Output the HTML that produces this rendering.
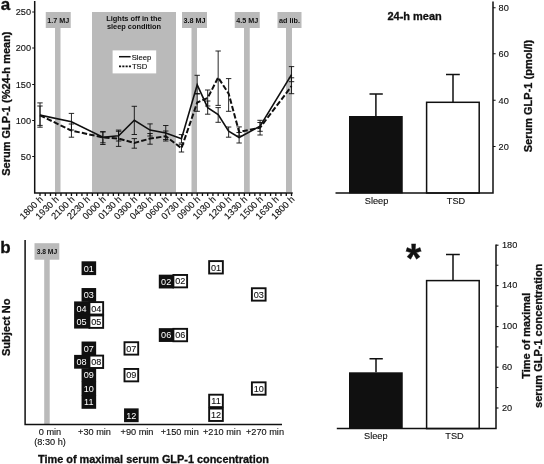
<!DOCTYPE html>
<html lang="en"><head><meta charset="utf-8"><title>Serum GLP-1</title>
<style>
html,body{margin:0;padding:0;background:#fff;}
body{width:544px;height:464px;overflow:hidden;}
svg{display:block;font-family:"Liberation Sans", Arial, Helvetica, sans-serif;}
text{fill:#101010;stroke:#101010;stroke-width:.12px;}
.b{font-weight:bold;stroke-width:.3px;}
.bs{font-weight:bold;stroke:none;}
.t9{font-size:9.2px;}
.ln{stroke:#101010;fill:none;}
</style></head><body>
<svg width="544" height="464" viewBox="0 0 544 464">
<rect width="544" height="464" fill="#fff"/>

<g fill="#bababa">
<rect x="92" y="12" width="84" height="180"/>
<rect x="45.75" y="12" width="25.0" height="16"/>
<rect x="55" y="27" width="5.5" height="165"/>
<rect x="182" y="12" width="25" height="16"/>
<rect x="191.5" y="27" width="5.5" height="165"/>
<rect x="234.75" y="12" width="25.0" height="16"/>
<rect x="244" y="27" width="5.75" height="165"/>
<rect x="277.5" y="12" width="24.0" height="16"/>
<rect x="286" y="27" width="6" height="165"/>
</g>
<text x="58.25" y="22.6" text-anchor="middle" class="bs" font-size="7.2">1.7 MJ</text>
<text x="194.5" y="22.6" text-anchor="middle" class="bs" font-size="7.2">3.8 MJ</text>
<text x="247.25" y="22.6" text-anchor="middle" class="bs" font-size="7.2">4.5 MJ</text>
<text x="289.5" y="22.6" text-anchor="middle" class="bs" font-size="7.2">ad lib.</text>
<text x="134" y="21" text-anchor="middle" class="bs" font-size="7.4">Lights off in the</text>
<text x="134" y="29.3" text-anchor="middle" class="bs" font-size="7.4">sleep condition</text>
<rect x="112.6" y="50.4" width="43.6" height="23" fill="#fff"/>
<line x1="119" y1="56.7" x2="130.6" y2="56.7" class="ln" stroke-width="1.5"/>
<line x1="119" y1="66.3" x2="131.5" y2="66.3" class="ln" stroke-width="1.7" stroke-dasharray="2.1 1.2"/>
<text x="131.7" y="59.5" font-size="7.7">Sleep</text>
<text x="131.9" y="69.4" font-size="7.7">TSD</text>
<path d="M34.7 1V192.9H292.7" class="ln" stroke-width="1.5"/>
<line x1="32.2" y1="12" x2="34.7" y2="12" class="ln" stroke-width="1"/>
<text x="31.1" y="15.3" text-anchor="end" class="t9">250</text>
<line x1="32.2" y1="48" x2="34.7" y2="48" class="ln" stroke-width="1"/>
<text x="31.1" y="51.3" text-anchor="end" class="t9">200</text>
<line x1="32.2" y1="84.5" x2="34.7" y2="84.5" class="ln" stroke-width="1"/>
<text x="31.1" y="87.8" text-anchor="end" class="t9">150</text>
<line x1="32.2" y1="120.5" x2="34.7" y2="120.5" class="ln" stroke-width="1"/>
<text x="31.1" y="123.8" text-anchor="end" class="t9">100</text>
<line x1="32.2" y1="156.5" x2="34.7" y2="156.5" class="ln" stroke-width="1"/>
<text x="31.1" y="159.8" text-anchor="end" class="t9">50</text>
<path d="M40.00 192.9v3.1M45.24 192.9v3.1M50.48 192.9v3.1M55.72 192.9v3.1M60.96 192.9v3.1M66.20 192.9v3.1M71.44 192.9v3.1M76.68 192.9v3.1M81.92 192.9v3.1M87.16 192.9v3.1M92.40 192.9v3.1M97.64 192.9v3.1M102.88 192.9v3.1M108.12 192.9v3.1M113.36 192.9v3.1M118.60 192.9v3.1M123.84 192.9v3.1M129.08 192.9v3.1M134.32 192.9v3.1M139.56 192.9v3.1M144.80 192.9v3.1M150.04 192.9v3.1M155.28 192.9v3.1M160.52 192.9v3.1M165.76 192.9v3.1M171.00 192.9v3.1M176.24 192.9v3.1M181.48 192.9v3.1M186.72 192.9v3.1M191.96 192.9v3.1M197.20 192.9v3.1M202.44 192.9v3.1M207.68 192.9v3.1M212.92 192.9v3.1M218.16 192.9v3.1M223.40 192.9v3.1M228.64 192.9v3.1M233.88 192.9v3.1M239.12 192.9v3.1M244.36 192.9v3.1M249.60 192.9v3.1M254.84 192.9v3.1M260.08 192.9v3.1M265.32 192.9v3.1M270.56 192.9v3.1M275.80 192.9v3.1M281.04 192.9v3.1M286.28 192.9v3.1M291.52 192.9v3.1" class="ln" stroke-width="1.3"/>
<text transform="translate(43.60 199.8) rotate(-45)" text-anchor="end" font-size="9.3">1800 h</text>
<text transform="translate(59.32 199.8) rotate(-45)" text-anchor="end" font-size="9.3">1930 h</text>
<text transform="translate(75.04 199.8) rotate(-45)" text-anchor="end" font-size="9.3">2100 h</text>
<text transform="translate(90.76 199.8) rotate(-45)" text-anchor="end" font-size="9.3">2230 h</text>
<text transform="translate(106.48 199.8) rotate(-45)" text-anchor="end" font-size="9.3">0000 h</text>
<text transform="translate(122.20 199.8) rotate(-45)" text-anchor="end" font-size="9.3">0130 h</text>
<text transform="translate(137.92 199.8) rotate(-45)" text-anchor="end" font-size="9.3">0300 h</text>
<text transform="translate(153.64 199.8) rotate(-45)" text-anchor="end" font-size="9.3">0430 h</text>
<text transform="translate(169.36 199.8) rotate(-45)" text-anchor="end" font-size="9.3">0600 h</text>
<text transform="translate(185.08 199.8) rotate(-45)" text-anchor="end" font-size="9.3">0730 h</text>
<text transform="translate(200.80 199.8) rotate(-45)" text-anchor="end" font-size="9.3">0900 h</text>
<text transform="translate(216.52 199.8) rotate(-45)" text-anchor="end" font-size="9.3">1030 h</text>
<text transform="translate(232.24 199.8) rotate(-45)" text-anchor="end" font-size="9.3">1200 h</text>
<text transform="translate(247.96 199.8) rotate(-45)" text-anchor="end" font-size="9.3">1330 h</text>
<text transform="translate(263.68 199.8) rotate(-45)" text-anchor="end" font-size="9.3">1500 h</text>
<text transform="translate(279.40 199.8) rotate(-45)" text-anchor="end" font-size="9.3">1630 h</text>
<text transform="translate(295.12 199.8) rotate(-45)" text-anchor="end" font-size="9.3">1800 h</text>
<text transform="translate(9.5 103.6) rotate(-90)" text-anchor="middle" class="b" font-size="11">Serum GLP-1 (%24-h mean)</text>
<text x="0.7" y="10.1" class="b" font-size="17">a</text>
<path d="M40.00 106.00V125.40M37.30 106.00h5.4M37.30 125.40h5.4M71.44 113.40V130.00M68.74 113.40h5.4M68.74 130.00h5.4M102.88 131.60V142.80M100.18 131.60h5.4M100.18 142.80h5.4M118.60 130.10V141.00M115.90 130.10h5.4M115.90 141.00h5.4M134.32 106.30V134.50M131.62 106.30h5.4M131.62 134.50h5.4M150.04 123.90V136.00M147.34 123.90h5.4M147.34 136.00h5.4M165.76 125.50V139.50M163.06 125.50h5.4M163.06 139.50h5.4M181.48 134.60V143.00M178.78 134.60h5.4M178.78 143.00h5.4M197.20 75.30V94.00M194.50 75.30h5.4M194.50 94.00h5.4M207.68 101.00V114.20M204.98 101.00h5.4M204.98 114.20h5.4M218.16 107.60V122.30M215.46 107.60h5.4M215.46 122.30h5.4M228.64 127.00V137.20M225.94 127.00h5.4M225.94 137.20h5.4M239.12 132.50V143.00M236.42 132.50h5.4M236.42 143.00h5.4M260.08 122.50V131.30M257.38 122.50h5.4M257.38 131.30h5.4M291.52 66.60V81.70M288.82 66.60h5.4M288.82 81.70h5.4M40.00 102.90V127.20M37.30 102.90h5.4M37.30 127.20h5.4M71.44 124.00V137.20M68.74 124.00h5.4M68.74 137.20h5.4M102.88 132.00V144.50M100.18 132.00h5.4M100.18 144.50h5.4M118.60 131.30V146.40M115.90 131.30h5.4M115.90 146.40h5.4M134.32 138.60V148.20M131.62 138.60h5.4M131.62 148.20h5.4M150.04 133.50V144.20M147.34 133.50h5.4M147.34 144.20h5.4M165.76 131.00V141.00M163.06 131.00h5.4M163.06 141.00h5.4M181.48 144.30V152.00M178.78 144.30h5.4M178.78 152.00h5.4M197.20 93.50V111.30M194.50 93.50h5.4M194.50 111.30h5.4M207.68 90.00V106.00M204.98 90.00h5.4M204.98 106.00h5.4M218.16 51.00V105.40M215.46 51.00h5.4M215.46 105.40h5.4M228.64 78.60V111.30M225.94 78.60h5.4M225.94 111.30h5.4M239.12 126.90V136.00M236.42 126.90h5.4M236.42 136.00h5.4M260.08 120.30V135.00M257.38 120.30h5.4M257.38 135.00h5.4M291.52 77.80V93.70M288.82 77.80h5.4M288.82 93.70h5.4" class="ln" stroke="#303030" stroke-width="0.9"/>
<polyline points="40.00,115.1 71.44,121.7 102.88,137.2 118.60,135.7 134.32,120.3 150.04,130.1 165.76,133 181.48,138.7 197.20,84.8 207.68,107.6 218.16,114.5 228.64,131.2 239.12,137.5 260.08,126.1 291.52,74.6" class="ln" stroke-width="1.6" stroke-linejoin="miter"/>
<polyline points="40.00,115.3 71.44,130.6 102.88,137.4 118.60,138.6 134.32,143 150.04,138.6 165.76,136.2 181.48,148.2 197.20,102.5 207.68,98 218.16,77.5 228.64,93.6 239.12,132 260.08,127.6 291.52,86.2" class="ln" stroke-width="2" stroke-dasharray="5.4 2.2" stroke-linejoin="miter"/>
<text x="387.4" y="19.9" class="b" font-size="11">24-h mean</text>
<rect x="349" y="116" width="53.75" height="77.4" fill="#101010"/>
<rect x="426.6" y="102.3" width="52.6" height="90.7" fill="#fff" stroke="#101010" stroke-width="1.5"/>
<path d="M375.9 116V94M369.5 94h13.3M453 102V74.5M446 74.5h13.8" class="ln" stroke-width="1.5"/>
<path d="M335.5 193H493V1.5" class="ln" stroke-width="1.5"/>
<line x1="493" y1="7.75" x2="495.6" y2="7.75" class="ln" stroke-width="1"/>
<text x="498.6" y="11.05" class="t9">80</text>
<line x1="493" y1="53.75" x2="495.6" y2="53.75" class="ln" stroke-width="1"/>
<text x="498.6" y="57.05" class="t9">60</text>
<line x1="493" y1="100.25" x2="495.6" y2="100.25" class="ln" stroke-width="1"/>
<text x="498.6" y="103.55" class="t9">40</text>
<line x1="493" y1="146.5" x2="495.6" y2="146.5" class="ln" stroke-width="1"/>
<text x="498.6" y="149.8" class="t9">20</text>
<text x="376.5" y="203.9" text-anchor="middle" class="t9">Sleep</text>
<text x="456" y="203.9" text-anchor="middle" class="t9">TSD</text>
<text transform="translate(531.8 96) rotate(-90)" text-anchor="middle" class="b" font-size="11">Serum GLP-1 (pmol/l)</text>
<text x="0.2" y="253.3" class="b" font-size="17">b</text>
<g fill="#bababa"><rect x="34.5" y="243.2" width="24.8" height="16.5"/><rect x="44.2" y="259" width="5.5" height="166"/></g>
<text x="46.9" y="253.9" text-anchor="middle" class="bs" font-size="6.7">3.8 MJ</text>
<path d="M25.1 240V424.6H282" class="ln" stroke-width="1.5"/>
<text transform="translate(9.6 327.3) rotate(-90)" text-anchor="middle" class="b" font-size="11">Subject No</text>
<rect x="81.55" y="261.30" width="14.60" height="13.8" fill="#101010"/>
<text x="88.85" y="271.50" text-anchor="middle" font-size="9.1" style="fill:#fff;stroke:none">01</text>
<rect x="158.80" y="274.67" width="15.20" height="13.8" fill="#101010"/>
<text x="166.15" y="284.87" text-anchor="middle" font-size="9.1" style="fill:#fff;stroke:none">02</text>
<rect x="81.55" y="288.04" width="14.60" height="13.8" fill="#101010"/>
<text x="88.85" y="298.24" text-anchor="middle" font-size="9.1" style="fill:#fff;stroke:none">03</text>
<rect x="74.10" y="301.41" width="15.90" height="13.8" fill="#101010"/>
<text x="81.50" y="311.61" text-anchor="middle" font-size="9.1" style="fill:#fff;stroke:none">04</text>
<rect x="74.10" y="314.78" width="15.90" height="13.8" fill="#101010"/>
<text x="81.50" y="324.98" text-anchor="middle" font-size="9.1" style="fill:#fff;stroke:none">05</text>
<rect x="158.80" y="328.15" width="15.20" height="13.8" fill="#101010"/>
<text x="166.15" y="338.35" text-anchor="middle" font-size="9.1" style="fill:#fff;stroke:none">06</text>
<rect x="81.55" y="341.52" width="14.60" height="13.8" fill="#101010"/>
<text x="88.85" y="351.72" text-anchor="middle" font-size="9.1" style="fill:#fff;stroke:none">07</text>
<rect x="74.10" y="354.89" width="15.90" height="13.8" fill="#101010"/>
<text x="81.50" y="365.09" text-anchor="middle" font-size="9.1" style="fill:#fff;stroke:none">08</text>
<rect x="81.55" y="368.26" width="14.60" height="13.8" fill="#101010"/>
<text x="88.85" y="378.46" text-anchor="middle" font-size="9.1" style="fill:#fff;stroke:none">09</text>
<rect x="81.55" y="381.63" width="14.60" height="13.8" fill="#101010"/>
<text x="88.85" y="391.83" text-anchor="middle" font-size="9.1" style="fill:#fff;stroke:none">10</text>
<rect x="81.55" y="395.00" width="14.60" height="13.8" fill="#101010"/>
<text x="88.85" y="405.20" text-anchor="middle" font-size="9.1" style="fill:#fff;stroke:none">11</text>
<rect x="124.05" y="408.37" width="14.60" height="13.8" fill="#101010"/>
<text x="131.35" y="418.57" text-anchor="middle" font-size="9.1" style="fill:#fff;stroke:none">12</text>
<rect x="209.15" y="261.10" width="13.7" height="12.4" fill="#fff" stroke="#101010" stroke-width="1.9"/>
<text x="216.00" y="270.60" text-anchor="middle" font-size="9.1" style="stroke-width:.1px">01</text>
<rect x="173.40" y="274.97" width="13.7" height="12.4" fill="#fff" stroke="#101010" stroke-width="1.9"/>
<text x="180.25" y="284.47" text-anchor="middle" font-size="9.1" style="stroke-width:.1px">02</text>
<rect x="251.90" y="288.24" width="13.7" height="12.4" fill="#fff" stroke="#101010" stroke-width="1.9"/>
<text x="258.75" y="297.74" text-anchor="middle" font-size="9.1" style="stroke-width:.1px">03</text>
<rect x="89.45" y="302.11" width="13.7" height="12.4" fill="#fff" stroke="#101010" stroke-width="1.9"/>
<text x="96.30" y="311.61" text-anchor="middle" font-size="9.1" style="stroke-width:.1px">04</text>
<rect x="89.45" y="315.48" width="13.7" height="12.4" fill="#fff" stroke="#101010" stroke-width="1.9"/>
<text x="96.30" y="324.98" text-anchor="middle" font-size="9.1" style="stroke-width:.1px">05</text>
<rect x="173.40" y="328.85" width="13.7" height="12.4" fill="#fff" stroke="#101010" stroke-width="1.9"/>
<text x="180.25" y="338.35" text-anchor="middle" font-size="9.1" style="stroke-width:.1px">06</text>
<rect x="124.50" y="342.22" width="13.7" height="12.4" fill="#fff" stroke="#101010" stroke-width="1.9"/>
<text x="131.35" y="351.72" text-anchor="middle" font-size="9.1" style="stroke-width:.1px">07</text>
<rect x="89.45" y="355.59" width="13.7" height="12.4" fill="#fff" stroke="#101010" stroke-width="1.9"/>
<text x="96.30" y="365.09" text-anchor="middle" font-size="9.1" style="stroke-width:.1px">08</text>
<rect x="124.50" y="368.96" width="13.7" height="12.4" fill="#fff" stroke="#101010" stroke-width="1.9"/>
<text x="131.35" y="378.46" text-anchor="middle" font-size="9.1" style="stroke-width:.1px">09</text>
<rect x="251.90" y="382.33" width="13.7" height="12.4" fill="#fff" stroke="#101010" stroke-width="1.9"/>
<text x="258.75" y="391.83" text-anchor="middle" font-size="9.1" style="stroke-width:.1px">10</text>
<rect x="209.15" y="394.70" width="13.7" height="12.4" fill="#fff" stroke="#101010" stroke-width="1.9"/>
<text x="216.00" y="404.20" text-anchor="middle" font-size="9.1" style="stroke-width:.1px">11</text>
<rect x="209.15" y="408.57" width="13.7" height="12.4" fill="#fff" stroke="#101010" stroke-width="1.9"/>
<text x="216.00" y="418.07" text-anchor="middle" font-size="9.1" style="stroke-width:.1px">12</text>
<text x="50" y="434.7" text-anchor="middle" class="t9">0 min</text>
<text x="94.5" y="434.7" text-anchor="middle" class="t9">+30 min</text>
<text x="137" y="434.7" text-anchor="middle" class="t9">+90 min</text>
<text x="179.75" y="434.7" text-anchor="middle" class="t9">+150 min</text>
<text x="222" y="434.7" text-anchor="middle" class="t9">+210 min</text>
<text x="265" y="434.7" text-anchor="middle" class="t9">+270 min</text>
<text x="50" y="445.4" text-anchor="middle" class="t9">(8:30 h)</text>
<text x="38" y="462.6" class="b" font-size="10.9">Time of maximal serum GLP-1 concentration</text>
<rect x="349" y="372.3" width="53.75" height="56.5" fill="#101010"/>
<rect x="426.6" y="280.6" width="52.6" height="148" fill="#fff" stroke="#101010" stroke-width="1.5"/>
<path d="M376 372.3V358.8M369.5 358.8h13.3M453 280V254.6M446 254.6h13.8" class="ln" stroke-width="1.5"/>
<path d="M336.8 428.6H496V244.6" class="ln" stroke-width="1.5"/>
<line x1="496" y1="245.2" x2="498.5" y2="245.2" class="ln" stroke-width="1.1"/>
<text x="502" y="248.00" class="t9">180</text>
<line x1="496" y1="285.6" x2="498.5" y2="285.6" class="ln" stroke-width="1.1"/>
<text x="502" y="288.40" class="t9">140</text>
<line x1="496" y1="326.6" x2="498.5" y2="326.6" class="ln" stroke-width="1.1"/>
<text x="502" y="329.40" class="t9">100</text>
<line x1="496" y1="367.2" x2="498.5" y2="367.2" class="ln" stroke-width="1.1"/>
<text x="502" y="370.00" class="t9">60</text>
<line x1="496" y1="408" x2="498.5" y2="408" class="ln" stroke-width="1.1"/>
<text x="502" y="410.80" class="t9">20</text>
<line x1="496" y1="265.2" x2="498.4" y2="265.2" class="ln" stroke-width="1"/>
<line x1="496" y1="306.1" x2="498.4" y2="306.1" class="ln" stroke-width="1"/>
<line x1="496" y1="346.9" x2="498.4" y2="346.9" class="ln" stroke-width="1"/>
<line x1="496" y1="387.6" x2="498.4" y2="387.6" class="ln" stroke-width="1"/>
<text x="375.75" y="439.2" text-anchor="middle" class="t9">Sleep</text>
<text x="454.5" y="439.2" text-anchor="middle" class="t9">TSD</text>
<text x="413.6" y="272" text-anchor="middle" class="b" font-size="40">*</text>
<text transform="translate(530.2 335.8) rotate(-90)" text-anchor="middle" class="b" font-size="11">Time of maximal</text>
<text transform="translate(542.2 335.8) rotate(-90)" text-anchor="middle" class="b" font-size="11">serum GLP-1 concentration</text>
</svg></body></html>
